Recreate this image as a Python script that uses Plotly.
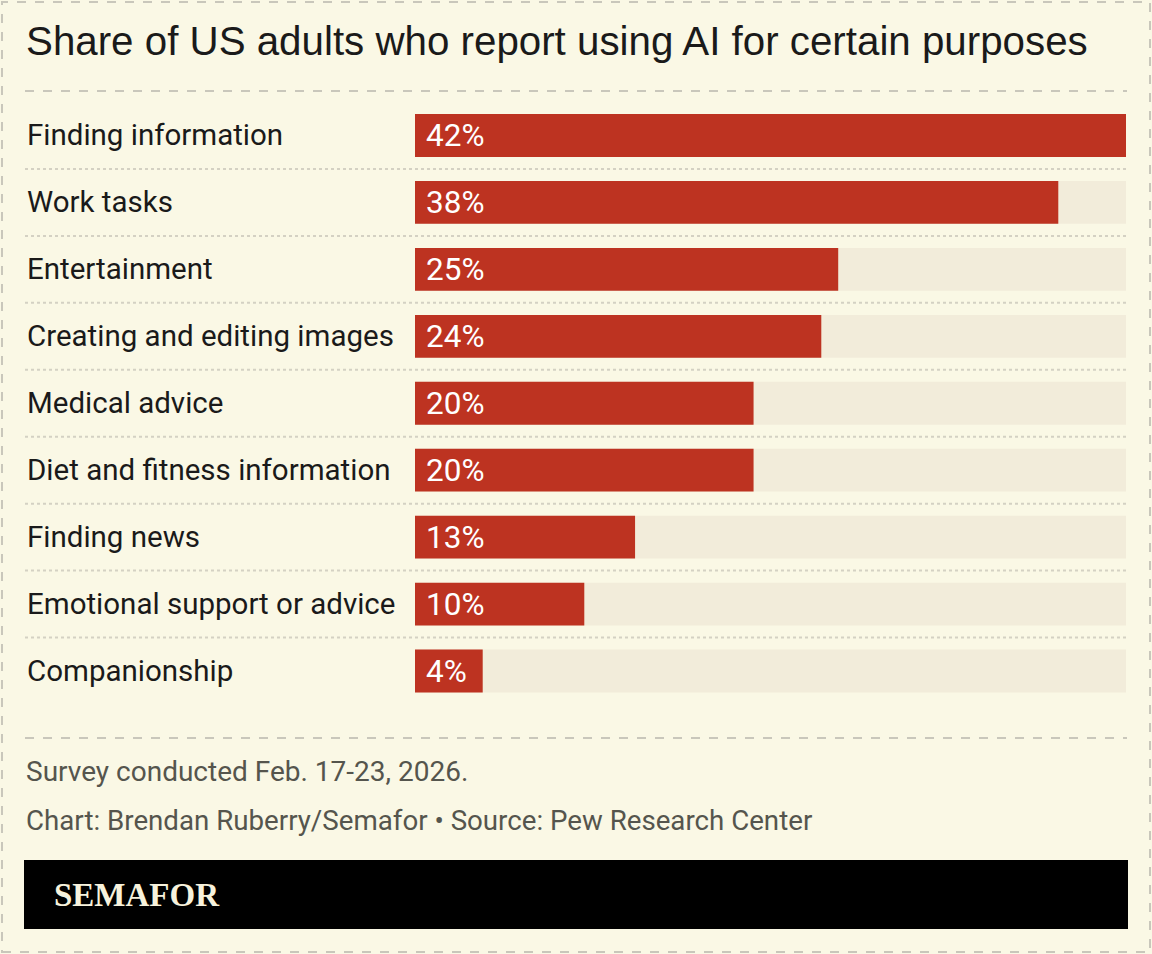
import plotly.graph_objects as go

categories = ["Finding information", "Work tasks", "Entertainment", "Creating and editing images",
              "Medical advice", "Diet and fitness information", "Finding news",
              "Emotional support or advice", "Companionship"]
values = [42, 38, 25, 24, 20, 20, 13, 10, 4]

title = "Share of US adults who report using AI for certain purposes"
note = "Survey conducted Feb. 17-23, 2026."
credit = "Chart: Brendan Ruberry/Semafor \u2022 Source: Pew Research Center"
brand = "SEMAFOR"

W, H = 1152, 954
def px(x): return x / W
def py(y): return 1 - y / H

BG = "#FAF8E5"
TRACK = "#F2ECDA"
RED = "#BD3321"
LABEL_FONT = "Roboto"

vmax = max(values)
fig = go.Figure()
fig.add_trace(go.Bar(y=categories, x=[vmax] * len(categories), orientation="h",
                     marker=dict(color=TRACK, line=dict(width=0)), hoverinfo="skip", showlegend=False))
fig.add_trace(go.Bar(y=categories, x=values, orientation="h",
                     marker=dict(color=RED, line=dict(width=0)), showlegend=False))

shapes = []
# outer dashed border
shapes.append(dict(type="rect", xref="paper", yref="paper", x0=px(2), x1=px(1150), y0=py(952), y1=py(2),
                   line=dict(color="#C9C7BB", width=2, dash="dash"), layer="below"))
# top and bottom dashed rules
for yy in (91, 738):
    shapes.append(dict(type="line", xref="paper", yref="paper", x0=px(25), x1=px(1127), y0=py(yy), y1=py(yy),
                       line=dict(color="#C9C7BB", width=2, dash="dash")))
# dotted separators between rows
for i in range(len(categories) - 1):
    shapes.append(dict(type="line", xref="paper", yref="y", x0=px(25), x1=px(1127), y0=i + 0.5, y1=i + 0.5,
                       line=dict(color="#D4D1C3", width=2, dash="dot")))
# black brand band
shapes.append(dict(type="rect", xref="paper", yref="paper", x0=px(24), x1=px(1128), y0=py(929), y1=py(860),
                   fillcolor="black", line=dict(width=0)))

annotations = []
for i, (c, v) in enumerate(zip(categories, values)):
    annotations.append(dict(x=px(25), y=i, xref="paper", yref="y", text=c, showarrow=False,
                            xanchor="left", yanchor="middle",
                            font=dict(family=LABEL_FONT, size=29.5, color="#1a1a1a")))
    annotations.append(dict(x=0, y=i, xref="x", yref="y", text=f"{v}%", showarrow=False,
                            xanchor="left", yanchor="middle", xshift=9,
                            font=dict(family=LABEL_FONT, size=31.5, color="white")))
annotations.append(dict(x=px(24), y=py(42), xref="paper", yref="paper", text=title, showarrow=False,
                        xanchor="left", yanchor="middle",
                        font=dict(family="Liberation Sans", size=40.3, color="#1a1a1a")))
annotations.append(dict(x=px(24), y=py(771), xref="paper", yref="paper", text=note, showarrow=False,
                        xanchor="left", yanchor="middle",
                        font=dict(family=LABEL_FONT, size=28, color="#55554d")))
annotations.append(dict(x=px(24), y=py(820), xref="paper", yref="paper", text=credit, showarrow=False,
                        xanchor="left", yanchor="middle",
                        font=dict(family=LABEL_FONT, size=27.7, color="#55554d")))
annotations.append(dict(x=px(52), y=py(895), xref="paper", yref="paper", text=f"<b>{brand}</b>", showarrow=False,
                        xanchor="left", yanchor="middle",
                        font=dict(family="Liberation Serif", size=33, color="#F7F2DC")))

fig.update_layout(
    width=W, height=H, margin=dict(l=0, r=0, t=0, b=0),
    paper_bgcolor=BG, plot_bgcolor=BG,
    barmode="overlay", bargap=0.36,
    xaxis=dict(domain=[px(415), px(1126)], range=[0, vmax], visible=False, fixedrange=True),
    yaxis=dict(domain=[py(704.5), py(102)], autorange="reversed", visible=False, fixedrange=True,
               type="category"),
    shapes=shapes, annotations=annotations,
)

fig.write_html("out.html")
